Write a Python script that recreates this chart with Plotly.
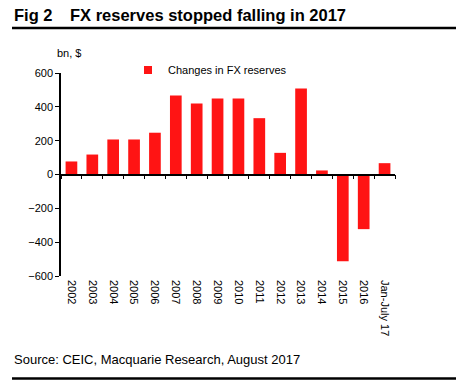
import plotly.graph_objects as go

categories = ["2002", "2003", "2004", "2005", "2006", "2007", "2008", "2009",
              "2010", "2011", "2012", "2013", "2014", "2015", "2016", "Jan-July 17"]
changes = [77, 118, 207, 207, 247, 467, 420, 450, 450, 333, 128, 509, 24, -513, -323, 67]
y_ticks = [-600, -400, -200, 0, 200, 400, 600]
series_name = "Changes in FX reserves"

FONT = "Liberation Sans, Arial, sans-serif"
RED = "#FF1414"

fig = go.Figure()
fig.add_trace(go.Bar(
    x=categories, y=changes, name=series_name, showlegend=False,
    marker=dict(color=RED, line=dict(width=0)),
    width=0.56, xaxis="x", yaxis="y",
))
# legend entry with a small square swatch
fig.add_trace(go.Scatter(x=[None], y=[None], mode="markers", name=series_name,
                         marker=dict(symbol="square", size=8, color=RED),
                         xaxis="x", yaxis="y"))
# invisible trace to carry the zero-line axis
fig.add_trace(go.Bar(x=categories, y=[0] * len(categories), xaxis="x2", yaxis="y",
                     showlegend=False, hoverinfo="skip", marker=dict(color="rgba(0,0,0,0)")))

W, H = 456, 385
L, R, T, B = 61, 61, 73, 109
pw, ph = W - L - R, H - T - B

def px(x):
    return (x - L) / pw

def py(y):
    return 1 - (y - T) / ph

fig.update_layout(
    width=W, height=H,
    margin=dict(l=L, r=R, t=T, b=B, autoexpand=False),
    paper_bgcolor="white", plot_bgcolor="white",
    font=dict(family=FONT, size=11, color="black"),
    barmode="overlay",
    showlegend=True,
    legend=dict(x=px(128), xanchor="left", y=py(70), yanchor="middle",
                orientation="h", font=dict(size=11), bgcolor="rgba(0,0,0,0)",
                itemwidth=30, borderwidth=0),
    xaxis=dict(type="category", categoryorder="array", categoryarray=categories,
               showline=False, ticks="", tickangle=90, showgrid=False,
               zeroline=False, tickfont=dict(size=11), ticklabelstandoff=3),
    xaxis2=dict(type="category", categoryorder="array", categoryarray=categories,
                overlaying="x", matches="x", anchor="free", position=0.5,
                showline=True, linecolor="black", linewidth=1.5,
                ticks="outside", ticklen=4, tickwidth=1.2, tickcolor="black",
                tickson="boundaries", showticklabels=False, showgrid=False, zeroline=False),
    yaxis=dict(range=[-600, 600], tickvals=y_ticks, showline=True, linecolor="black",
               linewidth=1.5, ticks="outside", ticklen=4, tickwidth=1.2, tickcolor="black",
               showgrid=False, zeroline=False, tickfont=dict(size=11)),
)

def note(text, x, y, size):
    fig.add_annotation(text=text, xref="paper", yref="paper", x=px(x), y=py(y),
                       showarrow=False, xanchor="left", yanchor="middle",
                       font=dict(size=size, family=FONT))

note("<b>Fig 2</b>", 12, 15, 16.5)
note("<b>FX reserves stopped falling in 2017</b>", 68, 15, 16.5)
note("bn, $", 55, 53, 11)
note("Source: CEIC, Macquarie Research, August 2017", 12, 359, 13)

def hline(ypix, w):
    fig.add_shape(type="line", xref="paper", yref="paper",
                  x0=px(12), x1=px(456), y0=py(ypix), y1=py(ypix),
                  line=dict(color="black", width=w))

hline(28, 2.5)
hline(378.5, 2.5)

fig.write_html("out.html", config={"displayModeBar": False},
               post_script="document.body.style.margin='0';document.body.style.overflow='hidden';")
